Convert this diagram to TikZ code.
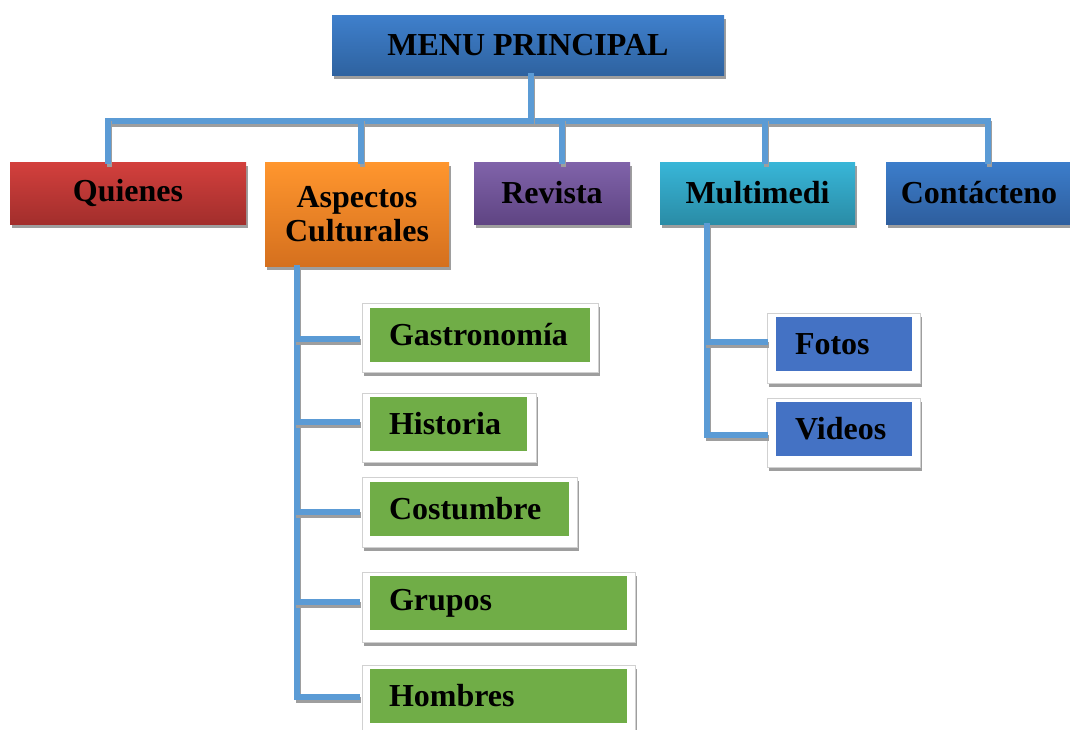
\documentclass[tikz,border=0pt]{standalone}
\usepackage{fontspec}
\setmainfont{Liberation Serif}
\usetikzlibrary{shadows}
\definecolor{cline}{HTML}{5B9BD5}
\definecolor{menuT}{HTML}{3F80CC}\definecolor{menuB}{HTML}{2E62A0}
\definecolor{redT}{HTML}{D3403D}\definecolor{redB}{HTML}{A22E2C}
\definecolor{orT}{HTML}{FF962E}\definecolor{orB}{HTML}{D5701E}
\definecolor{puT}{HTML}{8063AA}\definecolor{puB}{HTML}{5F4483}
\definecolor{cyT}{HTML}{38B6D8}\definecolor{cyB}{HTML}{2A8CA6}
\definecolor{blT}{HTML}{3C7DCB}\definecolor{blB}{HTML}{2E5E9E}
\definecolor{gbox}{HTML}{70AD47}
\definecolor{bbox}{HTML}{4472C4}
\begin{document}
\begin{tikzpicture}[x=0.75pt,y=-0.75pt,
  shad/.style={drop shadow={shadow xshift=1.2pt,shadow yshift=-3pt,fill=black!38,opacity=1}},
  lvl/.style={shad,inner sep=0pt,align=center,text=black,
     font=\fontsize{24}{27}\selectfont\bfseries},
  outerbox/.style={shad,fill=white,draw=black!18,line width=0.5pt,inner sep=0pt},
  innerbox/.style={inner sep=0pt,inner xsep=14.25pt,align=left,text=black,
     font=\fontsize{24}{27}\selectfont\bfseries,minimum height=40.5pt},
  conn/.style={draw=cline,line width=4pt,line cap=rect,
     preaction={draw=black!38,line width=4pt,line cap=rect,
        transform canvas={shift={(1.2pt,-2.2pt)}}}}]
\useasboundingbox (0,0) rectangle (1070,729);

% level 0
\node[lvl,top color=menuT,bottom color=menuB,minimum width=294pt,minimum height=45pt] (menu) at (528,45) {MENU PRINCIPAL};

% level 1
\node[lvl,top color=redT,bottom color=redB,minimum width=177pt,minimum height=46.5pt] (quienes) at (128,193) {Quienes};
\node[lvl,top color=orT,bottom color=orB,minimum width=138pt,minimum height=78pt] (aspectos) at (357,214) {Aspectos\\[-2pt]Culturales};
\node[lvl,top color=puT,bottom color=puB,minimum width=117pt,minimum height=46.5pt] (revista) at (552,193) {Revista};
\node[lvl,top color=cyT,bottom color=cyB,minimum width=146.25pt,minimum height=46.5pt] (multi) at (757.5,193) {Multimedi};
\node[lvl,top color=blT,bottom color=blB,minimum width=139.5pt,minimum height=46.5pt] (contacto) at (979,193) {Contácteno};

% submenu Aspectos
\node[outerbox,minimum width=177pt,minimum height=51.75pt] (gastroO) at (480,337.5) {};
\node[innerbox,fill=gbox,text width=136.5pt] (gastro) at (480,335) {Gastronomía};
\node[outerbox,minimum width=130.5pt,minimum height=51.75pt] (histO) at (449,427.5) {};
\node[innerbox,fill=gbox,text width=89.25pt] (hist) at (448.5,424) {Historia};
\node[outerbox,minimum width=161.25pt,minimum height=52.5pt] (costO) at (469.5,512) {};
\node[innerbox,fill=gbox,text width=120.75pt] (cost) at (469.5,509) {Costumbre};
\node[outerbox,minimum width=204.75pt,minimum height=52.5pt] (grupO) at (498.5,607) {};
\node[innerbox,fill=gbox,text width=164.25pt] (grup) at (498.5,603) {Grupos};
\node[outerbox,minimum width=204.75pt,minimum height=52.5pt] (hombO) at (498.5,700) {};
\node[innerbox,fill=gbox,text width=164.25pt] (homb) at (498.5,696) {Hombres};

% submenu Multimedi
\node[outerbox,minimum width=114.75pt,minimum height=52.5pt] (fotosO) at (843.5,348) {};
\node[innerbox,fill=bbox,text width=73.5pt] (fotos) at (844,344) {Fotos};
\node[outerbox,minimum width=114.75pt,minimum height=51.75pt] (videosO) at (843.5,432.5) {};
\node[innerbox,fill=bbox,text width=73.5pt] (videos) at (844,429) {Videos};

% connectors level 0 -> 1
\coordinate (bar) at (531,121);
\coordinate (s1) at (108,121);
\coordinate (s2) at (361,121);
\coordinate (s3) at (562,121);
\coordinate (s4) at (765,121);
\coordinate (s5) at (988,121);
\draw[conn] (s1) -- (s5);
\draw[conn] (bar |- menu.south) -- (bar);
\draw[conn] (s1) -- (s1 |- quienes.north);
\draw[conn] (s2) -- (s2 |- aspectos.north);
\draw[conn] (s3) -- (s3 |- revista.north);
\draw[conn] (s4) -- (s4 |- multi.north);
\draw[conn] (s5) -- (s5 |- contacto.north);

% connectors Aspectos
\coordinate (aroot) at (297,268);
\coordinate (b1) at (357,339);
\coordinate (b2) at (357,422);
\coordinate (b3) at (357,512);
\coordinate (b4) at (357,602);
\coordinate (b5) at (357,697);
\draw[conn] (aroot) |- (b5);
\draw[conn] (b1 -| aroot) -- (b1);
\draw[conn] (b2 -| aroot) -- (b2);
\draw[conn] (b3 -| aroot) -- (b3);
\draw[conn] (b4 -| aroot) -- (b4);

% connectors Multimedi
\coordinate (mroot) at (707,226);
\coordinate (m1) at (765,342);
\coordinate (m2) at (765,435);
\draw[conn] (mroot) |- (m2);
\draw[conn] (m1 -| mroot) -- (m1);
\end{tikzpicture}
\end{document}
